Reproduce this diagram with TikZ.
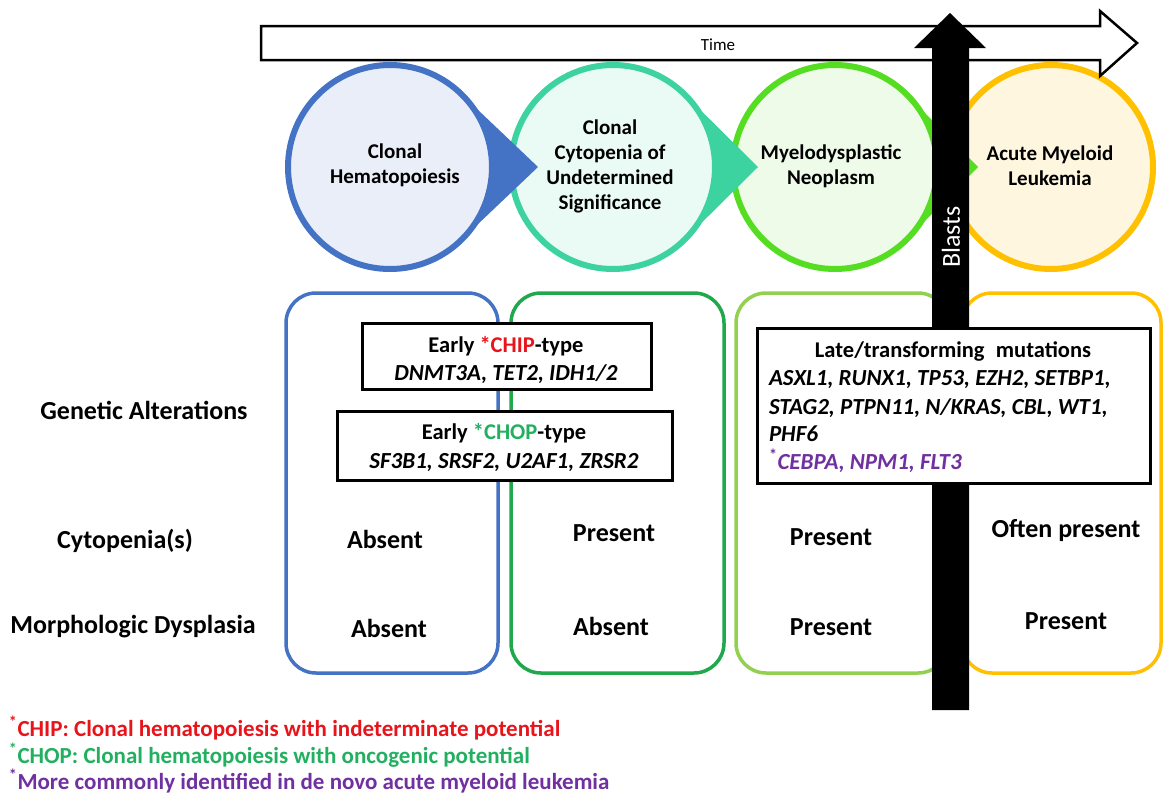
\documentclass[tikz,border=0pt]{standalone}
\usepackage{fontspec}
\setmainfont{Carlito}
\usetikzlibrary{calc}
\definecolor{cblue}{HTML}{4472C4}
\definecolor{cblueF}{HTML}{E9EEF8}
\definecolor{cteal}{HTML}{3CD3A0}
\definecolor{ctealF}{HTML}{EAFAF4}
\definecolor{cgreen}{HTML}{55DD22}
\definecolor{cgreenF}{HTML}{EFFBE9}
\definecolor{corange}{HTML}{FFC000}
\definecolor{corangeF}{HTML}{FFF6E0}
\definecolor{bgreen}{HTML}{1FA84C}
\definecolor{blgreen}{HTML}{92D050}
\definecolor{cred}{HTML}{E8141B}
\definecolor{cchop}{HTML}{22B060}
\definecolor{cpurple}{HTML}{7030A0}
\newcommand\szLab{\fontsize{26}{30}\selectfont}
\newcommand\szCirc{\fontsize{21}{25}\selectfont}
\newcommand\szHead{\fontsize{22.5}{27}\selectfont}
\newcommand\szBox{\fontsize{23}{28}\selectfont}
\newcommand\szFoot{\fontsize{23}{26}\selectfont}
\begin{document}
\begin{tikzpicture}[x=1pt,y=-1pt,
  every node/.style={font=\bfseries, inner sep=0pt, outer sep=0pt},
  stage/.style={circle, draw=#1, line width=6pt, minimum size=204pt},
  colbox/.style={draw=#1, line width=3.5pt, rounded corners=30pt, minimum height=380pt},
  mutbox/.style={draw=black, fill=white, line width=3pt},
  lab/.style={font=\bfseries\szLab},
  val/.style={font=\bfseries\szLab},
  circtext/.style={font=\bfseries\szCirc, align=center},
  boxtext/.style={font=\bfseries\szHead, align=center},
  genec/.style={font=\bfseries\itshape\szBox},
  gene/.style={font=\bfseries\itshape\szBox, anchor=west},
  foot/.style={font=\bfseries\szFoot, anchor=west}]
\useasboundingbox (0,0) rectangle (1163,793);

% stage circles
\node[stage=cblue, fill=cblueF] (s1) at (390,167) {};
\node[stage=cteal, fill=ctealF] (s2) at (613,167) {};
\node[stage=cgreen, fill=cgreenF] (s3) at (835,167) {};
\node[stage=corange, fill=corangeF] (s4) at (1051,167) {};
\coordinate (t1) at (538,167);
\coordinate (t2) at (758,167);
\coordinate (t3) at (978,167);
% teardrop points
\fill[cblue] (t1) -- ($(s1.center)+(46.4:102)$) arc[start angle=46.4, end angle=-46.4, radius=102] -- cycle;
\fill[cteal] (t2) -- ($(s2.center)+(45.3:102)$) arc[start angle=45.3, end angle=-45.3, radius=102] -- cycle;
\fill[cgreen] (t3) -- ($(s3.center)+(44.5:102)$) arc[start angle=44.5, end angle=-44.5, radius=102] -- cycle;

% stage texts
\node[circtext] (l1) at (395,165) {Clonal\\Hematopoiesis};
\node[circtext] (l2) at (610,166) {Clonal\\Cytopenia of\\Undetermined\\Significance};
\node[circtext] (l3) at (831,166) {Myelodysplastic\\Neoplasm};
\node[circtext] (l4) at (1050,166) {Acute Myeloid\\Leukemia};

% column boxes
\node[colbox=cblue, minimum width=212pt] (b1) at (392,483) {};
\node[colbox=bgreen, minimum width=213pt] (b2) at (617.5,483) {};
\node[colbox=blgreen, minimum width=212pt] (b3) at (842,483) {};
\node[colbox=corange, minimum width=199pt] (b4) at (1061.5,483) {};

% time arrow
\draw[fill=white, line width=2.5pt, line join=miter] (261,26) -- (1100,26) -- (1100,11) -- (1137,43) -- (1100,76) -- (1100,60) -- (261,60) -- cycle;
\node[font=\fontsize{17}{19}\selectfont] (time) at (718,45) {Time};

% blasts arrow
\fill[black] (932,710) -- (932,48) -- (914,48) -- (950,13) -- (986,48) -- (969,48) -- (969,710) -- cycle;
\node[font=\fontsize{26}{28}\selectfont, text=white, rotate=90] (blasts) at (951,237) {Blasts};

% mutation boxes
\node[mutbox, minimum width=289pt, minimum height=66pt] (chip) at (506.5,356) {};
\node[boxtext] (chipA) at (506,346) {Early \textcolor{cred}{*CHIP}-type};
\node[genec] (chipB) at (506,374) {DNMT3A, TET2, IDH1/2};

\node[mutbox, minimum width=335pt, minimum height=69pt] (chop) at (504.5,445.5) {};
\node[boxtext] (chopA) at (504,433) {Early \textcolor{cchop}{*CHOP}-type};
\node[genec] (chopB) at (504,463) {SF3B1, SRSF2, U2AF1, ZRSR2};

\node[mutbox, minimum width=393pt, minimum height=155pt] (late) at (953.5,405.5) {};
\node[boxtext] (lateA) at (953,351) {Late/transforming\hspace{0.5em}mutations};
\node[gene] (g1) at (769,380) {ASXL1, RUNX1, TP53, EZH2, SETBP1,};
\node[gene] (g2) at (769,408) {STAG2, PTPN11, N/KRAS, CBL, WT1,};
\node[gene] (g3) at (769,434) {PHF6};
\node[gene, text=cpurple] (g4) at (769,461) {\textsuperscript{\upshape *}CEBPA, NPM1, FLT3};

% row labels
\node[lab] (rGen) at (144,410) {Genetic Alterations};
\node[lab] (rCyt) at (125,541) {Cytopenia(s)};
\node[lab] (rMor) at (133,627) {Morphologic Dysplasia};

% values
\node[val] (v11) at (385,539) {Absent};
\node[val] (v12) at (614,533) {Present};
\node[val] (v13) at (831,537) {Present};
\node[val] (v14) at (1066,531) {Often present};
\node[val] (v21) at (389,628) {Absent};
\node[val] (v22) at (611,626) {Absent};
\node[val] (v23) at (831,627) {Present};
\node[val] (v24) at (1066,621) {Present};

% footnotes
\node[foot, text=cred] (f1) at (9,728) {\textsuperscript{*}CHIP: Clonal hematopoiesis with indeterminate potential};
\node[foot, text=cchop] (f2) at (9,755) {\textsuperscript{*}CHOP: Clonal hematopoiesis with oncogenic potential};
\node[foot, text=cpurple] (f3) at (9,781) {\textsuperscript{*}More commonly identified in de novo acute myeloid leukemia};
\end{tikzpicture}
\end{document}
